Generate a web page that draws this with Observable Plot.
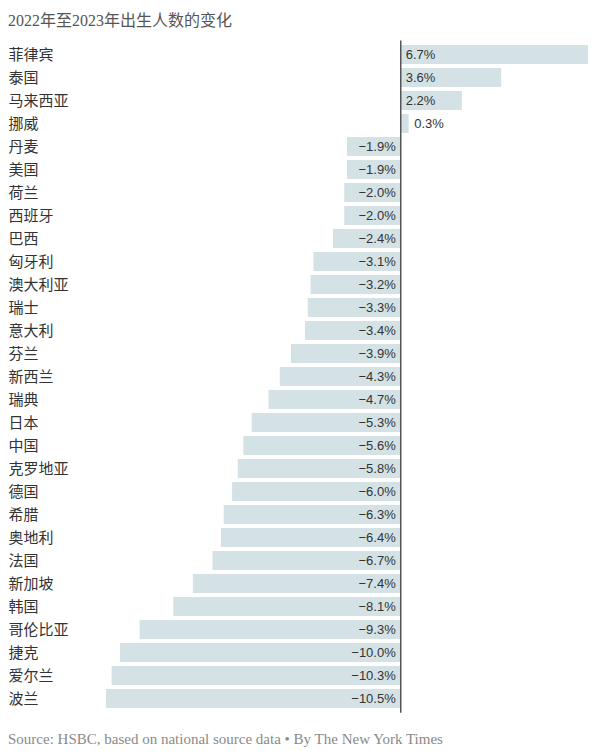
<!DOCTYPE html>
<html>
<head>
<meta charset="utf-8">
<script src="https://cdn.jsdelivr.net/npm/d3@7"></script>
<script src="https://cdn.jsdelivr.net/npm/@observablehq/plot@0.6"></script>
<style>
  html, body { margin: 0; padding: 0; background: #fff; }
  #title { height: 32px; box-sizing: border-box; padding: 11px 0 0 8px; font-family: "Liberation Serif", "Noto Sans CJK SC", serif; font-size: 16px; line-height: 20px; color: #555; white-space: nowrap; }
  #chart svg { display: block; }
  #caption { padding: 7px 0 0 8px; font-family: "Liberation Serif", serif; font-size: 15px; line-height: 20px; color: #8a8a8a; white-space: nowrap; }
</style>
</head>
<body>
<div id="title">2022年至2023年出生人数的变化</div>
<div id="chart"></div>
<div id="caption">Source: HSBC, based on national source data • By The New York Times</div>
<script>
const countries = ["菲律宾","泰国","马来西亚","挪威","丹麦","美国","荷兰","西班牙","巴西","匈牙利","澳大利亚","瑞士","意大利","芬兰","新西兰","瑞典","日本","中国","克罗地亚","德国","希腊","奥地利","法国","新加坡","韩国","哥伦比亚","捷克","爱尔兰","波兰"];
const values = [6.7, 3.6, 2.2, 0.3, -1.9, -1.9, -2.0, -2.0, -2.4, -3.1, -3.2, -3.3, -3.4, -3.9, -4.3, -4.7, -5.3, -5.6, -5.8, -6.0, -6.3, -6.4, -6.7, -7.4, -8.1, -9.3, -10.0, -10.3, -10.5];

const data = countries.map((c, i) => ({country: c, value: values[i]}));
const fmt = v => (v < 0 ? "\u2212" : "") + Math.abs(v).toFixed(1) + "%";

const chart = Plot.plot({
  width: 596,
  height: 690,
  marginLeft: 106,
  marginRight: 8,
  marginTop: 8.6,
  marginBottom: 9.2,
  style: { fontFamily: "'Liberation Sans', Arial, sans-serif", fontSize: "13px", color: "#333", background: "#fff" },
  x: { domain: [-10.5, 6.7], axis: null },
  y: { domain: countries, paddingInner: 0.18, paddingOuter: 0.09, axis: null, label: null },
  marks: [
    Plot.barX(data, { x: "value", y: "country", fill: "#d4e2e6" }),
    Plot.ruleX([0], { stroke: "#555", strokeWidth: 1.5 }),
    Plot.text(data.filter(d => d.value < 0), { x: 0, y: "country", text: d => fmt(d.value), textAnchor: "end", dx: -5, fill: "#333" }),
    Plot.text(data.filter(d => d.value >= 0), { x: d => d.value < 1 ? d.value : 0, y: "country", text: d => fmt(d.value), textAnchor: "start", dx: 5, fill: "#333" }),
    Plot.axisY({ anchor: "left", label: null, tickSize: 0, tickPadding: 0, textAnchor: "start", dx: -98, fontSize: 15, fill: "#333", fontFamily: "'Noto Sans CJK SC', sans-serif" })
  ]
});
document.getElementById("chart").appendChild(chart);
</script>
</body>
</html>
